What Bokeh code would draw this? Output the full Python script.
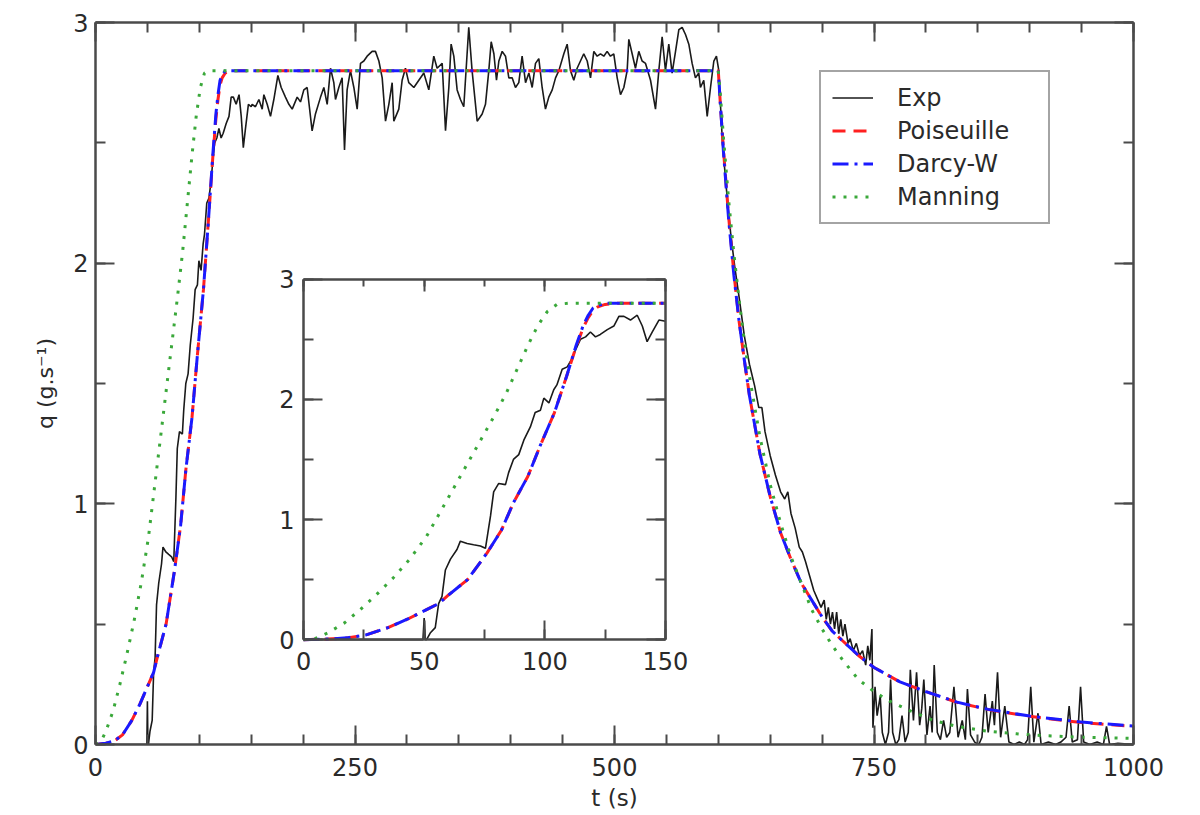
from bokeh.plotting import figure
from bokeh.models import (Range1d, LinearAxis, SingleIntervalTicker, Legend, LegendItem,
                          ColumnDataSource, CDSView, BooleanFilter)
from bokeh.embed import file_html
from bokeh.resources import INLINE

# ---------------- data ----------------
main_t_ticks = [0, 250, 500, 750, 1000]
main_q_ticks = [0, 1, 2, 3]
inset_t_ticks = [0, 50, 100, 150]
inset_q_ticks = [0, 1, 2, 3]

exp_t = [0, 49.5, 50, 50.5, 51, 52.5, 54.6, 56, 57.4, 58.8, 60.9, 63.6, 65, 67.8, 70.5, 73.3, 75.4,
         77.5, 78.8, 80.9, 83.7, 85, 87, 89.2, 91.3, 94, 96, 98.2, 99.6, 101.7, 103.7, 105, 107.2,
         109.3, 111.3, 112.7, 114.8, 116.9, 118.9, 121, 123, 125.9, 128.6, 130.7, 132.8, 135.5,
         138.3, 140.4, 142.4, 144.5, 147.3, 150,
         150.9, 154.1, 157.4, 160.6, 162.2, 165.4, 168.6, 171.8, 175.7, 178.9, 183.0, 186.3, 189.5,
         194.3, 197.5, 200.7, 203.9, 208.7, 211.9, 216.8, 220.0, 223.2, 226.4, 229.6, 231.2, 234.4,
         237.6, 239.9, 242.4, 245.6, 248.9, 252.1, 255.3, 258.5, 261.7, 266.5, 269.7, 273.0, 276.2,
         279.4, 282.6, 285.8, 287.4, 292.2, 295.4, 298.6, 301.8, 306.7, 311.5, 316.3, 321.1, 325.9,
         329.1, 334.0, 337.2, 340.4, 342.6, 345.2, 348.4, 351.6, 354.8, 359.6, 362.8, 367.7,
         372.5, 375.7, 378.9, 381.2, 383.8, 386.3, 388.6, 391.8, 395.0, 398.2, 401.4, 404.6, 407.8,
         411.0, 414.3, 417.5, 420.7, 423.9, 427.1, 430.3, 433.5, 436.7, 440.0, 443.2, 446.4, 451.2,
         454.4, 457.6, 460.8, 464.0, 467.2, 470.4, 473.7, 476.9, 480.1, 483.3, 486.5, 489.7, 492.9,
         496.1, 499.3, 502.6, 505.8, 509.0, 512.2, 513.8, 517.0, 520.2, 523.4, 526.6, 529.9, 534.7,
         539.5, 542.7, 545.9, 549.1, 552.3, 555.5, 558.8, 562.0, 565.2, 568.4, 571.6, 574.8, 578.0,
         581.2, 582.8, 586.0, 589.3, 592.5, 595.7, 598.2, 600.5,
         601, 604, 608, 612, 616, 620, 625, 630, 635, 639, 642, 645, 650, 655, 660, 664, 667, 670,
         674, 678, 681, 684, 688, 692, 696, 699, 702, 704, 706, 708, 710, 712, 714, 716, 718, 720,
         722, 725, 727, 730, 733, 736, 739, 742, 744, 746, 748, 749, 751, 753, 756, 758, 761, 764,
         766, 768, 771, 774, 777, 780, 783, 785, 788, 791, 794, 796, 798, 801, 804, 806, 808, 811,
         814, 817, 820, 823, 827, 831, 835, 838, 840, 843, 847, 851, 854, 857, 860, 864, 866, 869,
         872, 876, 880, 885, 890, 895, 898, 901, 904, 908, 911, 918, 925, 930, 935, 938, 941, 946,
         949, 952, 958, 965, 971, 974, 977, 985, 1000]
exp_q = [0, 0, 0.18, 0, 0, 0.055, 0.10, 0.30, 0.36, 0.58, 0.67, 0.75, 0.82, 0.80, 0.79, 0.78, 0.76,
         1.03, 1.23, 1.30, 1.29, 1.39, 1.50, 1.54, 1.66, 1.77, 1.89, 1.91, 2.01, 1.97, 2.08, 2.12, 2.25,
         2.27, 2.34, 2.41, 2.50, 2.52, 2.56, 2.52, 2.54, 2.58, 2.61, 2.69, 2.69, 2.66,
         2.70, 2.61, 2.48, 2.56, 2.66, 2.65,
         2.66, 2.65, 2.68, 2.64, 2.70, 2.66, 2.61, 2.68, 2.78, 2.73, 2.69, 2.66, 2.64,
         2.69, 2.67, 2.72, 2.73, 2.55, 2.62, 2.69, 2.73, 2.66, 2.81, 2.75, 2.68, 2.73,
         2.77, 2.47, 2.72, 2.80, 2.73, 2.64, 2.83, 2.84, 2.86, 2.88, 2.88, 2.84, 2.77,
         2.59, 2.66, 2.75, 2.59, 2.64, 2.76, 2.81, 2.75, 2.73, 2.76, 2.79, 2.72, 2.86,
         2.81, 2.83, 2.55, 2.73, 2.91, 2.86, 2.72, 2.68, 2.65, 2.98, 2.80, 2.59,
         2.62, 2.66, 2.80, 2.92, 2.87, 2.76, 2.84, 2.88, 2.86, 2.77, 2.77, 2.73, 2.75,
         2.86, 2.75, 2.79, 2.73, 2.83, 2.85, 2.73, 2.64, 2.69, 2.72, 2.77, 2.80, 2.87,
         2.91, 2.80, 2.76, 2.81, 2.84, 2.87, 2.84, 2.77, 2.88, 2.86, 2.87, 2.86, 2.88,
         2.86, 2.87, 2.77, 2.70, 2.73, 2.80, 2.93, 2.87, 2.81, 2.88, 2.84, 2.83, 2.76,
         2.64, 2.80, 2.94, 2.80, 2.91, 2.79, 2.88, 2.97, 2.98, 2.95, 2.91, 2.83, 2.77,
         2.79, 2.73, 2.76, 2.61, 2.73, 2.84, 2.86, 2.80,
         2.75, 2.50, 2.30, 2.12, 1.98, 1.86, 1.70, 1.58, 1.49, 1.40, 1.40, 1.30, 1.20, 1.12, 1.05, 1.02, 1.05, 0.96,
         0.90, 0.82, 0.80, 0.76, 0.70, 0.64, 0.60, 0.57, 0.60, 0.52, 0.57, 0.50, 0.55, 0.48, 0.55, 0.46, 0.52, 0.45,
         0.50, 0.42, 0.44, 0.39, 0.42, 0.37, 0.39, 0.33, 0.41, 0.35, 0.48, 0.07, 0.24, 0.12, 0.20, 0.05, 0.0, 0.05,
         0.27, 0.05, 0.0, 0.02, 0.12, 0.01, 0.05, 0.31, 0.10, 0.30, 0.08, 0.15, 0.27, 0.04, 0.16, 0.05, 0.33, 0.05,
         0.02, 0.10, 0.03, 0.05, 0.24, 0.03, 0.10, 0.02, 0.23, 0.04, 0.01, 0.0, 0.03, 0.21, 0.05, 0.18, 0.08, 0.30,
         0.03, 0.16, 0.01, 0.0, 0.01, 0.0, 0.02, 0.24, 0.01, 0.13, 0.0, 0.01, 0.0, 0.01, 0.03, 0.16, 0.01, 0.02,
         0.24, 0.01, 0.0, 0.01, 0.0, 0.075, 0.0, 0.005, 0.0]

pois_t = [0, 10, 18, 26, 35, 43, 51, 56, 60, 68, 76, 82, 87, 93, 98, 104, 109, 113, 116, 118, 120, 122,
          125, 130, 150, 600, 602, 605, 610, 615, 620, 625, 630, 640, 650, 660, 670, 680, 690, 700, 710,
          720, 735, 750, 775, 800, 830, 860, 900, 950, 1000]
pois_q = [0, 0.005, 0.014, 0.04, 0.10, 0.17, 0.25, 0.30, 0.37, 0.50, 0.72, 0.91, 1.14, 1.36, 1.61, 1.89,
          2.19, 2.44, 2.60, 2.68, 2.74, 2.77, 2.79, 2.80, 2.80, 2.80, 2.66, 2.47, 2.19, 1.96, 1.76, 1.60,
          1.45, 1.21, 1.03, 0.88, 0.77, 0.67, 0.60, 0.53, 0.47, 0.43, 0.37, 0.32, 0.26, 0.22, 0.175,
          0.145, 0.117, 0.091, 0.075]

darcy_t = [0, 10, 18, 26, 35, 43, 51, 56, 60, 68, 76, 82, 87, 93, 98, 104, 109, 113, 116, 118, 120, 122,
           125, 130, 150, 600, 602, 605, 610, 615, 620, 625, 630, 640, 650, 660, 670, 680, 690, 700, 710,
           720, 735, 750, 775, 800, 830, 860, 900, 950, 1000]
darcy_q = [0, 0.005, 0.015, 0.04, 0.10, 0.17, 0.25, 0.30, 0.37, 0.50, 0.72, 0.91, 1.14, 1.36, 1.61, 1.89,
           2.19, 2.45, 2.62, 2.70, 2.76, 2.78, 2.80, 2.80, 2.80, 2.80, 2.66, 2.46, 2.18, 1.95, 1.76, 1.60,
           1.45, 1.21, 1.03, 0.88, 0.77, 0.67, 0.60, 0.53, 0.47, 0.43, 0.37, 0.32, 0.26, 0.22, 0.176,
           0.146, 0.118, 0.093, 0.077]

mann_t = [0, 5, 10, 17, 23.5, 30, 37, 44, 51, 58, 65, 72, 79, 84, 88.5, 93, 97, 101, 105, 110, 150,
          600, 602, 605, 610, 615, 620, 625, 630, 640, 650, 660, 670, 680, 690, 700, 710, 720, 735, 750,
          765, 785, 807, 830, 860, 900, 950, 1000]
mann_q = [0, 0.01, 0.055, 0.14, 0.25, 0.37, 0.51, 0.67, 0.86, 1.11, 1.36, 1.61, 1.86, 2.05, 2.25, 2.45,
          2.61, 2.73, 2.79, 2.80, 2.80,
          2.80, 2.70, 2.52, 2.26, 2.04, 1.85, 1.68, 1.53, 1.28, 1.08, 0.92, 0.78, 0.67, 0.56, 0.48, 0.41,
          0.35, 0.27, 0.22, 0.18, 0.14, 0.10, 0.075, 0.055, 0.04, 0.03, 0.025]

# ---------------- style / layout ----------------
FONT = "DejaVu Sans"
AX = "#4a4a4a"
TXT = "#2a2a2a"
C_EXP = "#1a1a1a"
C_POI = "#ff2020"
C_DAR = "#1a1aff"
C_MAN = "#3aa83a"

W, H = 1190, 813
ML, MR, MT, MB = 95, 57, 22, 68

# inset frame as fractions of the main frame
IX0, IX1 = 0.2004, 0.5491
IY0, IY1 = 0.1452, 0.6445

p = figure(width=W, height=H, output_backend="svg", toolbar_location=None,
           x_range=Range1d(main_t_ticks[0], main_t_ticks[-1]),
           y_range=Range1d(main_q_ticks[0], main_q_ticks[-1]),
           min_border_left=ML, min_border_right=MR, min_border_top=MT, min_border_bottom=MB,
           x_axis_label="t (s)", y_axis_label="q (g.s\u207b\u00b9)")
p.background_fill_color = "white"
p.border_fill_color = "white"
p.outline_line_color = None
p.xgrid.visible = False
p.ygrid.visible = False

it0, it1 = inset_t_ticks[0], inset_t_ticks[-1]
iq0, iq1 = inset_q_ticks[0], inset_q_ticks[-1]
tspan = (it1 - it0) / (IX1 - IX0)
qspan = (iq1 - iq0) / (IY1 - IY0)
p.extra_x_ranges = {"ix": Range1d(it0 - IX0 * tspan, it0 - IX0 * tspan + tspan)}
p.extra_y_ranges = {"iy": Range1d(iq0 - IY0 * qspan, iq0 - IY0 * qspan + qspan)}


def style_axis(ax, labels=True, major=19, minor=10, standoff=7):
    ax.axis_line_color = AX
    ax.axis_line_width = 2.5
    ax.major_tick_line_color = AX
    ax.major_tick_line_width = 2
    ax.minor_tick_line_color = AX
    ax.minor_tick_line_width = 2
    ax.major_tick_in = major
    ax.major_tick_out = 0
    ax.minor_tick_in = minor
    ax.minor_tick_out = 0
    ax.major_label_text_font = FONT
    ax.major_label_text_font_size = "24px"
    ax.major_label_text_color = TXT
    ax.major_label_standoff = standoff
    ax.axis_label_text_font = FONT
    ax.axis_label_text_font_style = "normal"
    ax.axis_label_text_color = TXT
    if not labels:
        ax.major_label_text_color = None
        ax.major_label_text_font_size = "1px"
        ax.major_label_standoff = 0


p.xaxis.ticker = SingleIntervalTicker(interval=250, num_minor_ticks=5)
p.yaxis.ticker = SingleIntervalTicker(interval=1, num_minor_ticks=2)
style_axis(p.xaxis[0], standoff=13)
style_axis(p.yaxis[0], standoff=7)
p.xaxis.axis_label_text_font_size = "23px"
p.yaxis.axis_label_text_font_size = "22px"
p.xaxis.axis_label_standoff = 6
p.yaxis.axis_label_standoff = 12

top = LinearAxis(ticker=SingleIntervalTicker(interval=250, num_minor_ticks=5))
style_axis(top, labels=False)
p.add_layout(top, "above")
right = LinearAxis(ticker=SingleIntervalTicker(interval=1, num_minor_ticks=2))
style_axis(right, labels=False)
p.add_layout(right, "right")

# ---------------- main curves ----------------
r_exp = p.line(exp_t, exp_q, line_color=C_EXP, line_width=1.6)
r_poi = p.line(pois_t, pois_q, line_color=C_POI, line_width=3, line_dash="13 8")
r_dar = p.line(darcy_t, darcy_q, line_color=C_DAR, line_width=3, line_dash="16 6 3 6")
r_man = p.line(mann_t, mann_q, line_color=C_MAN, line_width=3, line_dash="3 8")

# ---------------- inset ----------------
p.quad(left=[it0], right=[it1], bottom=[iq0], top=[iq1], fill_color="white", line_color=None,
       x_range_name="ix", y_range_name="iy")


def inset_line(ts, qs, **kw):
    src = ColumnDataSource(dict(t=ts, q=qs))
    view = CDSView(filter=BooleanFilter([v <= it1 for v in ts]))
    return p.line("t", "q", source=src, view=view, x_range_name="ix", y_range_name="iy", **kw)


inset_line(exp_t, exp_q, line_color=C_EXP, line_width=1.6)
inset_line(pois_t, pois_q, line_color=C_POI, line_width=3, line_dash="13 8")
inset_line(darcy_t, darcy_q, line_color=C_DAR, line_width=3, line_dash="16 6 3 6")
inset_line(mann_t, mann_q, line_color=C_MAN, line_width=3, line_dash="3 8")

ib = LinearAxis(x_range_name="ix", y_range_name="iy", fixed_location=iq0, bounds=(it0, it1),
                ticker=SingleIntervalTicker(interval=50, num_minor_ticks=2))
style_axis(ib, standoff=12)
p.add_layout(ib, "below")
itop = LinearAxis(x_range_name="ix", y_range_name="iy", fixed_location=iq1, bounds=(it0, it1),
                  ticker=SingleIntervalTicker(interval=50, num_minor_ticks=2))
style_axis(itop, labels=False, major=12, minor=7)
p.add_layout(itop, "above")
il = LinearAxis(x_range_name="ix", y_range_name="iy", fixed_location=it0, bounds=(iq0, iq1),
                ticker=SingleIntervalTicker(interval=1, num_minor_ticks=2))
style_axis(il, standoff=9)
p.add_layout(il, "left")
iright = LinearAxis(x_range_name="ix", y_range_name="iy", fixed_location=it1, bounds=(iq0, iq1),
                    ticker=SingleIntervalTicker(interval=1, num_minor_ticks=2))
style_axis(iright, labels=False)
p.add_layout(iright, "right")

# ---------------- legend ----------------
legend = Legend(items=[LegendItem(label="Exp", renderers=[r_exp]),
                       LegendItem(label="Poiseuille", renderers=[r_poi]),
                       LegendItem(label="Darcy-W", renderers=[r_dar]),
                       LegendItem(label="Manning", renderers=[r_man])],
                location=(724, 520), orientation="vertical")
legend.label_text_font = FONT
legend.label_text_font_size = "24px"
legend.label_text_color = TXT
legend.glyph_width = 41
legend.glyph_height = 29
legend.label_height = 29
legend.label_width = 140
legend.label_standoff = 24
legend.padding = 11
legend.spacing = 4
legend.margin = 0
legend.border_line_color = AX
legend.border_line_width = 2
legend.background_fill_color = "white"
legend.background_fill_alpha = 1
p.add_layout(legend, "center")

open("out.html", "w").write(file_html(p, INLINE))
